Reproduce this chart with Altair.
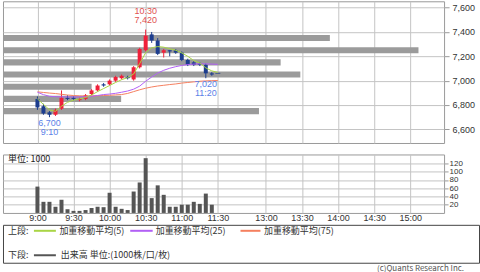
import json
import altair as alt
import pandas as pd

# ---------------- data ----------------
times = ["9:00", "9:05", "9:10", "9:15", "9:20", "9:25", "9:30", "9:35", "9:40", "9:45", "9:50", "9:55",
         "10:00", "10:05", "10:10", "10:15", "10:20", "10:25", "10:30", "10:35", "10:40", "10:45", "10:50", "10:55",
         "11:00", "11:05", "11:10", "11:15", "11:20", "11:25", "11:30"]
opens = [6850, 6790, 6740, 6720, 6770, 6860, 6860, 6840, 6850, 6890, 6920, 6970, 6970, 7000, 7020, 7030,
         7010, 7110, 7250, 7380, 7330, 7230, 7250, 7250, 7230, 7170, 7150, 7140, 7130, 7060, 7060]
closes = [6780, 6730, 6720, 6760, 6860, 6850, 6850, 6850, 6880, 6920, 6960, 6960, 7000, 7030, 7040, 7020,
          7110, 7260, 7370, 7330, 7220, 7250, 7240, 7230, 7170, 7130, 7130, 7130, 7060, 7050, 7060]
highs = [6870, 6810, 6750, 6770, 6920, 6880, 6870, 6860, 6890, 6930, 6970, 6980, 7010, 7040, 7050, 7040,
         7120, 7270, 7420, 7400, 7350, 7260, 7250, 7260, 7240, 7180, 7160, 7150, 7140, 7070, 7060]
lows = [6760, 6720, 6700, 6710, 6760, 6840, 6840, 6830, 6840, 6880, 6910, 6950, 6960, 6990, 7010, 7010,
        7000, 7100, 7240, 7310, 7210, 7190, 7200, 7220, 7160, 7120, 7120, 7120, 7020, 7040, 7060]
volumes = [64, 27, 27, 15, 32, 9, 5, 5, 7, 12, 15, 14, 49, 15, 10, 7, 52, 74, 133, 36, 67, 44, 15, 15,
           20, 20, 27, 22, 47, 20, 0]

wma5 = [6850, 6805, 6760, 6748, 6790, 6822, 6840, 6850, 6862, 6882, 6910, 6935, 6960, 6985, 7008, 7025,
        7055, 7140, 7230, 7270, 7280, 7275, 7262, 7250, 7228, 7200, 7165, 7145, 7105, 7080, 7068]
wma25 = [6905, 6885, 6872, 6868, 6867, 6866, 6866, 6866, 6868, 6872, 6878, 6886, 6890, 6896, 6905, 6915,
         6930, 6955, 6995, 7030, 7062, 7085, 7102, 7115, 7125, 7132, 7136, 7138, 7138, 7136, 7134]
wma75 = [6908, 6903, 6898, 6894, 6888, 6882, 6878, 6875, 6873, 6874, 6876, 6878, 6880, 6883, 6886, 6895,
         6910, 6925, 6938, 6948, 6956, 6962, 6968, 6973, 6980, 6985, 6990, 6995, 6998, 7000, 7001]

profile_prices = [7350, 7250, 7150, 7050, 6950, 6850, 6750]
profile_volumes = [166, 211, 141, 151, 45, 60, 130]

ann_times = ["10:30", "9:10", "11:20"]
ann_prices = [7420, 6700, 7020]
ann_kinds = ["high", "low", "low"]

tick_labels = ["9:00", "9:30", "10:00", "10:30", "11:00", "11:30", "13:00", "13:30", "14:00", "14:30", "15:00"]
price_ticks = [6600, 6800, 7000, 7200, 7400, 7600]
vol_ticks = [20, 40, 60, 80, 100, 120]

legend_labels = ["加重移動平均(5)", "加重移動平均(25)", "加重移動平均(75)", "出来高 単位:(1000株/口/枚)"]

# ---------------- styles ----------------
FONT = "Liberation Sans"
CJK = "Noto Sans CJK JP"
RED = "#f0203a"
BLUE = "#1d3d8e"
C5 = "#a9d545"
C25 = "#b260f5"
C75 = "#f5805f"
CVOL = "#555555"
GRID = "#c4c4c4"
BORDER = "#9a9a9a"
PROFILE = "#9b9b9b"


def to_slot(t):
    h, m = map(int, t.split(":"))
    mins = h * 60 + m
    if mins <= 11 * 60 + 30:
        return (mins - 540) / 5
    return 38 + (mins - 780) / 5


tick_slots = [to_slot(t) for t in tick_labels]
label_expr = f"{json.dumps(tick_labels)}[indexof({json.dumps(tick_slots)}, datum.value)]"

candles = pd.DataFrame({"time": times, "open": opens, "close": closes, "high": highs,
                        "low": lows, "volume": volumes})
candles["slot"] = [to_slot(t) for t in times]
candles["col"] = [RED if c > o else BLUE for o, c in zip(opens, closes)]

ma_rows = []
for arr, col in [(wma75, C75), (wma25, C25), (wma5, C5)]:
    for t, v in zip(times, arr):
        ma_rows.append({"slot": to_slot(t), "value": v, "col": col, "series": col})
ma = pd.DataFrame(ma_rows)

prof = pd.DataFrame({"pvol": profile_volumes,
                     "plo": [p - 25 for p in profile_prices],
                     "phi": [p + 25 for p in profile_prices]})

ann = pd.DataFrame({"slot": [to_slot(t) for t in ann_times], "price": ann_prices,
                    "ptxt": [f"{p:,}" for p in ann_prices], "ttxt": ann_times, "kind": ann_kinds})

W = 442
xscale = alt.Scale(domain=[-4.9, 66.8], nice=False, zero=False)
yscale = alt.Scale(domain=[6488, 7652], nice=False, zero=False)

x_axis_up = alt.Axis(values=tick_slots, labels=False, ticks=False, domain=False, grid=True,
                     gridColor=GRID, title=None)
y_axis_up = alt.Axis(orient="right", values=price_ticks, format=",d", grid=True, gridColor=GRID,
                     tickColor=BORDER, tickSize=5, labelPadding=3, labelFont=FONT, labelFontSize=9,
                     labelColor="#333333", domain=False, title=None, labelOverlap=False)

X = alt.X("slot:Q", scale=xscale, axis=x_axis_up)

profile = alt.Chart(prof).mark_rect(color=PROFILE).encode(
    x=alt.X("pvol:Q", scale=alt.Scale(domain=[0, 224], nice=False, zero=True), axis=None),
    x2=alt.datum(0),
    y=alt.Y("plo:Q", scale=yscale, axis=y_axis_up),
    y2="phi:Q",
)

base = alt.Chart(candles)
wicks = base.mark_rule(strokeWidth=1).encode(
    x=X, y=alt.Y("low:Q", scale=yscale, axis=y_axis_up), y2="high:Q",
    color=alt.Color("col:N", scale=None))
bodies = base.mark_bar(size=4).encode(
    x=X, y=alt.Y("open:Q", scale=yscale, axis=y_axis_up), y2="close:Q",
    color=alt.Color("col:N", scale=None))
doji = base.transform_filter("datum.open == datum.close").mark_tick(
    orient="horizontal", size=5, thickness=1).encode(
    x=X, y=alt.Y("close:Q", scale=yscale, axis=y_axis_up),
    color=alt.Color("col:N", scale=None))

lines = alt.Chart(ma).mark_line(strokeWidth=1).encode(
    x=X, y=alt.Y("value:Q", scale=yscale, axis=y_axis_up),
    color=alt.Color("col:N", scale=None), detail="series:N")

abase = alt.Chart(ann)
txt = dict(font=FONT, fontSize=9, baseline="middle", align="center")
hi_p = abase.transform_filter("datum.kind == 'high'").mark_text(dy=-10, color="#e05050", **txt).encode(
    x=X, y=alt.Y("price:Q", scale=yscale, axis=y_axis_up), text="ptxt:N")
hi_t = abase.transform_filter("datum.kind == 'high'").mark_text(dy=-19, color="#e05050", **txt).encode(
    x=X, y=alt.Y("price:Q", scale=yscale, axis=y_axis_up), text="ttxt:N")
lo_p = abase.transform_filter("datum.kind == 'low'").mark_text(dy=6, color="#5b7fe8", **txt).encode(
    x=X, y=alt.Y("price:Q", scale=yscale, axis=y_axis_up), text="ptxt:N")
lo_t = abase.transform_filter("datum.kind == 'low'").mark_text(dy=15, color="#5b7fe8", **txt).encode(
    x=X, y=alt.Y("price:Q", scale=yscale, axis=y_axis_up), text="ttxt:N")

upper = alt.layer(
    profile,
    alt.layer(wicks, bodies, doji, lines, hi_p, hi_t, lo_p, lo_t),
).resolve_scale(x="independent").properties(width=W, height=142)

# ---------------- lower (volume) ----------------
x_axis_low = alt.Axis(values=tick_slots, labelExpr=label_expr, grid=True, gridColor=GRID, domain=False,
                      ticks=False, labelPadding=1, labelFont=FONT, labelFontSize=9,
                      labelColor="#333333", title=None, labelOverlap=False, labelFlush=False)
y_axis_low = alt.Axis(orient="right", values=vol_ticks, grid=True, gridColor=GRID, domain=False,
                      tickSize=4, tickColor=BORDER, labelPadding=1, labelFont=FONT, labelFontSize=8,
                      labelColor="#333333", title=None, labelOverlap=False)

volbars = base.mark_bar(size=4, color=CVOL).encode(
    x=alt.X("slot:Q", scale=xscale, axis=x_axis_low),
    y=alt.Y("volume:Q", scale=alt.Scale(domain=[0, 142], nice=False), axis=y_axis_low),
)
unit_txt = alt.Chart(pd.DataFrame({"t": ["単位: 1000"]})).mark_text(
    align="left", baseline="middle", font=CJK, fontSize=9, color="#222222").encode(
    x=alt.value(5), y=alt.value(5), text="t:N")

lower = alt.layer(volbars, unit_txt).properties(width=W, height=58.6)

# ---------------- legend box ----------------
one = pd.DataFrame({"k": [0]})
R1, R2 = 6, 30.5


def ltext(s, x, y, align="left", size=9, color="#333333"):
    return alt.Chart(pd.DataFrame({"t": [s]})).mark_text(
        align=align, baseline="middle", font=CJK, fontSize=size, color=color).encode(
        x=alt.value(x), y=alt.value(y), text="t:N")


def lline(x1, x2, y, color):
    return alt.Chart(one).mark_rule(strokeWidth=2, color=color).encode(
        x=alt.value(x1), x2=alt.value(x2), y=alt.value(y))


legend = alt.layer(
    ltext("上段:", 5, R1),
    lline(31, 53, R1, C5), ltext(legend_labels[0], 56.5, R1),
    lline(127.5, 150, R1, C25), ltext(legend_labels[1], 153, R1),
    lline(238, 258, R1, C75), ltext(legend_labels[2], 261.5, R1),
    ltext("下段:", 5, R2),
    lline(31, 53, R2, CVOL), ltext(legend_labels[3], 58, R2),
    ltext("(c)Quants Research Inc.", 462, 44, align="right", size=8, color="#555555"),
).properties(width=477, height=38, view=alt.ViewBackground(stroke="#444444"))

chart = alt.vconcat(
    alt.vconcat(upper, lower, spacing=9.5),
    legend,
    spacing=0,
).properties(
    padding={"left": 2, "top": 0, "right": 0, "bottom": 0},
    background="white",
).configure_view(stroke=BORDER)

chart.save("out.html", embed_options={"renderer": "svg", "actions": False})
